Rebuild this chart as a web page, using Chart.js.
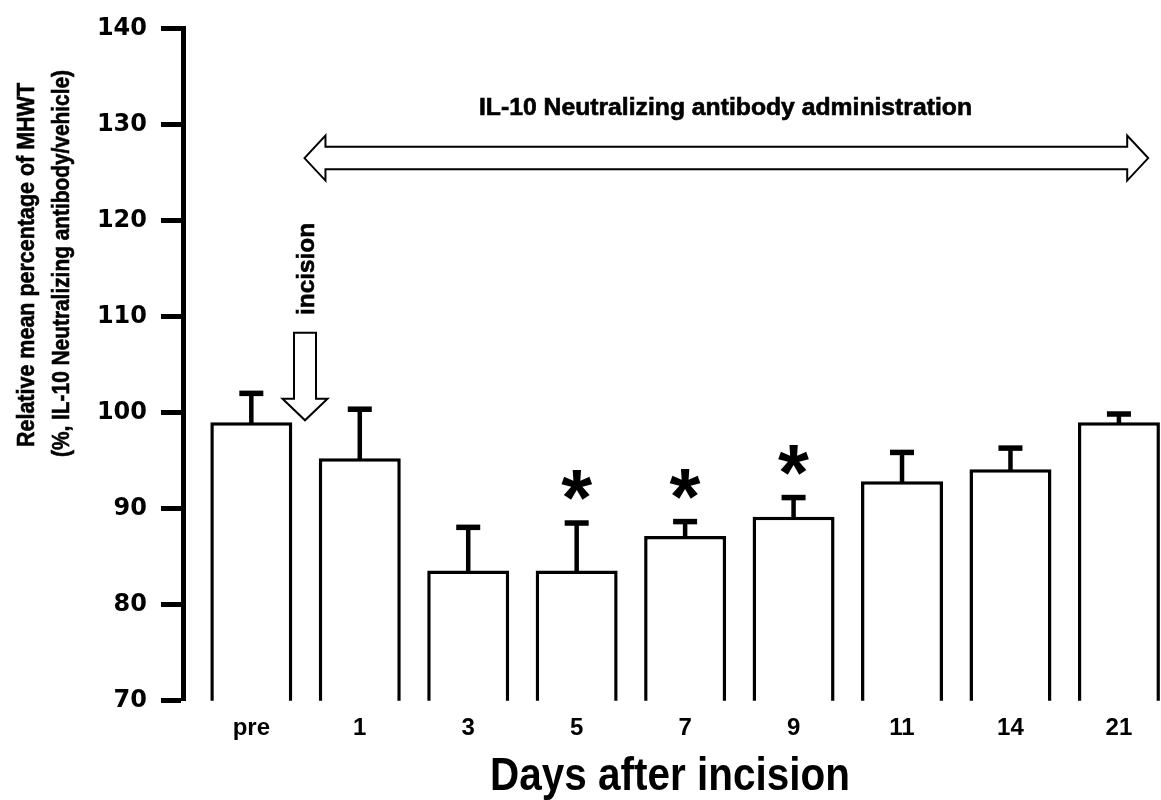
<!DOCTYPE html>
<html>
<head>
<meta charset="utf-8">
<script src="https://cdn.jsdelivr.net/npm/chart.js@4.4.1/dist/chart.umd.min.js"></script>
<style>
  html, body { margin: 0; padding: 0; background: #fff; }
  #wrap { width: 1161px; height: 800px; position: relative; }
</style>
</head>
<body>
<div id="wrap"><canvas id="barChart"></canvas></div>
<script>
var days = ['pre', '1', '3', '5', '7', '9', '11', '14', '21'];
var meanValues = [99.0, 95.25, 83.55, 83.55, 87.15, 89.15, 92.85, 94.1, 99.0];
var semValues = [3.0, 5.1, 4.5, 4.95, 1.5, 2.0, 3.0, 2.2, 0.85];
var significantDays = ['5', '7', '9'];
var yTicks = [70, 80, 90, 100, 110, 120, 130, 140];

var yTitle = ['Relative mean percentage of MHWT', '(%, IL-10 Neutralizing antibody/vehicle)'];
var xTitle = 'Days after incision';
var treatmentText = 'IL-10 Neutralizing antibody administration';
var incisionText = 'incision';

var FONT = '"Liberation Sans", Arial, sans-serif';
var HEAVY = '"DejaVu Sans", "Liberation Sans", sans-serif';

// text squeezed/stretched to a given width (and optional vertical stretch)
function fitText(ctx, text, x, y, width, sy, stroke) {
    var w = ctx.measureText(text).width;
    ctx.save();
    ctx.translate(x, y);
    ctx.scale(width / w, sy || 1);
    ctx.fillText(text, 0, 0);
    if (stroke) {
        ctx.lineWidth = stroke;
        ctx.strokeStyle = '#000';
        ctx.strokeText(text, 0, 0);
    }
    ctx.restore();
}

function drawStar(ctx, x, y) {
    ctx.font = 'bold 100px ' + FONT;
    var m = ctx.measureText('*');
    var w = m.actualBoundingBoxLeft + m.actualBoundingBoxRight;
    var size = 100 * 31 / w;
    ctx.font = 'bold ' + size + 'px ' + FONT;
    m = ctx.measureText('*');
    ctx.textAlign = 'left';
    ctx.textBaseline = 'alphabetic';
    var bx = x - (m.actualBoundingBoxRight - m.actualBoundingBoxLeft) / 2;
    var by = y - (m.actualBoundingBoxDescent - m.actualBoundingBoxAscent) / 2;
    ctx.fillText('*', bx, by);
}

function outline(ctx) {
    ctx.fillStyle = '#fff';
    ctx.fill();
    ctx.lineWidth = 2;
    ctx.strokeStyle = '#000';
    ctx.stroke();
}

function drawDoubleArrow(ctx, x1, x2, y) {
    var head = 21, hh = 22.5, sh = 11.2;
    ctx.beginPath();
    ctx.moveTo(x1, y);
    ctx.lineTo(x1 + head, y - hh);
    ctx.lineTo(x1 + head, y - sh);
    ctx.lineTo(x2 - head, y - sh);
    ctx.lineTo(x2 - head, y - hh);
    ctx.lineTo(x2, y);
    ctx.lineTo(x2 - head, y + hh);
    ctx.lineTo(x2 - head, y + sh);
    ctx.lineTo(x1 + head, y + sh);
    ctx.lineTo(x1 + head, y + hh);
    ctx.closePath();
    outline(ctx);
}

function drawDownArrow(ctx, x, y1, y2) {
    var head = 21.6, hw = 22.5, sw = 11;
    ctx.beginPath();
    ctx.moveTo(x - sw, y1);
    ctx.lineTo(x + sw, y1);
    ctx.lineTo(x + sw, y2 - head);
    ctx.lineTo(x + hw, y2 - head);
    ctx.lineTo(x, y2);
    ctx.lineTo(x - hw, y2 - head);
    ctx.lineTo(x - sw, y2 - head);
    ctx.closePath();
    outline(ctx);
}

var extras = {
    id: 'extras',
    afterDatasetsDraw: function(chart) {
        var ctx = chart.ctx, xs = chart.scales.x, ys = chart.scales.y;
        ctx.save();

        // error bars (upper only) and significance stars
        meanValues.forEach(function(v, i) {
            var x = xs.getPixelForValue(i);
            var yTop = ys.getPixelForValue(v);
            var yErr = ys.getPixelForValue(v + semValues[i]);
            ctx.fillStyle = '#000';
            ctx.fillRect(x - 2.25, yErr, 4.5, yTop - yErr + 1);
            ctx.fillRect(x - 12, yErr - 2.75, 24, 5.5);
            if (significantDays.indexOf(days[i]) >= 0) {
                drawStar(ctx, x, yErr - 38);
            }
        });

        // treatment period arrow
        drawDoubleArrow(ctx, xs.getPixelForValue(0.49), xs.getPixelForValue(8.27), ys.getPixelForValue(126.5));
        ctx.fillStyle = '#000';
        ctx.textAlign = 'left';
        ctx.textBaseline = 'alphabetic';
        ctx.font = 'bold 23px ' + FONT;
        fitText(ctx, treatmentText, 479, 115, 493, 1, 0.6);

        // incision marker
        var ix = xs.getPixelForValue(0.495);
        drawDownArrow(ctx, ix, ys.getPixelForValue(108.3), ys.getPixelForValue(99.2));
        ctx.save();
        ctx.translate(314, 269);
        ctx.rotate(-Math.PI / 2);
        ctx.fillStyle = '#000';
        ctx.textAlign = 'center';
        ctx.font = 'bold 23px ' + FONT;
        var iw = ctx.measureText(incisionText).width;
        ctx.scale(92 / iw, 1);
        ctx.fillText(incisionText, 0, 0);
        ctx.lineWidth = 0.6;
        ctx.strokeText(incisionText, 0, 0);
        ctx.restore();

        // axis titles
        ctx.fillStyle = '#000';
        ctx.font = 'bold 24px ' + FONT;
        ctx.textAlign = 'left';
        ctx.textBaseline = 'middle';
        ctx.save();
        ctx.rotate(-Math.PI / 2);
        fitText(ctx, yTitle[0], -447, 27, 364, 1, 0.6);
        fitText(ctx, yTitle[1], -457, 62, 387, 1, 0.6);
        ctx.restore();

        ctx.textBaseline = 'alphabetic';
        ctx.font = 'bold 41px ' + FONT;
        fitText(ctx, xTitle, 490, 790, 360, 1.12);

        ctx.restore();
    }
};

new Chart(document.getElementById('barChart').getContext('2d'), {
    type: 'bar',
    data: {
        datasets: [{
            data: meanValues.map(function(v, i) { return { x: i, y: v }; }),
            backgroundColor: '#fff',
            borderColor: '#000',
            borderWidth: 3.5,
            borderSkipped: false,
            barPercentage: 0.756,
            categoryPercentage: 1.0
        }]
    },
    options: {
        responsive: true,
        maintainAspectRatio: false,
        animation: false,
        layout: { padding: { top: 22.5, left: 0, right: 0, bottom: 0 } },
        plugins: {
            legend: { display: false },
            tooltip: { enabled: false }
        },
        scales: {
            x: {
                type: 'linear',
                offset: false,
                min: -0.63,
                max: 8.388,
                grid: { display: false, drawTicks: false, offset: false },
                border: { display: false },
                afterBuildTicks: function(s) {
                    s.ticks = days.map(function(d, i) { return { value: i }; });
                },
                afterFit: function(s) { s.height = 99.3; },
                ticks: {
                    autoSkip: false,
                    maxRotation: 0,
                    padding: 13,
                    color: '#000',
                    font: { family: FONT, size: 24, weight: 'bold' },
                    callback: function(v) { return days[v]; }
                }
            },
            y: {
                min: 70,
                max: 140,
                afterBuildTicks: function(s) {
                    s.ticks = yTicks.map(function(v) { return { value: v }; });
                },
                afterFit: function(s) { s.width = 183; },
                grid: {
                    drawOnChartArea: false,
                    drawTicks: true,
                    tickLength: 22,
                    tickWidth: 5,
                    tickColor: '#000'
                },
                border: { display: true, color: '#000', width: 5 },
                ticks: {
                    padding: 14,
                    color: '#000',
                    font: { family: HEAVY, size: 24, weight: 'bold' }
                }
            }
        }
    },
    plugins: [extras]
});
</script>
</body>
</html>
